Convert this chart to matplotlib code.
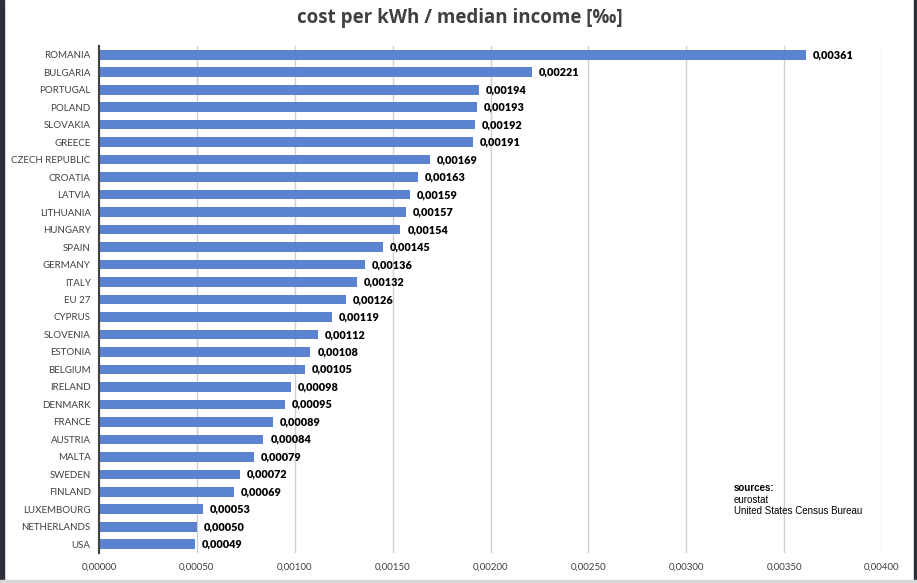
import matplotlib
matplotlib.use("Agg")
import matplotlib.pyplot as plt
from matplotlib.ticker import FuncFormatter, MultipleLocator

countries = ["ROMANIA", "BULGARIA", "PORTUGAL", "POLAND", "SLOVAKIA", "GREECE",
             "CZECH REPUBLIC", "CROATIA", "LATVIA", "LITHUANIA", "HUNGARY", "SPAIN",
             "GERMANY", "ITALY", "EU 27", "CYPRUS", "SLOVENIA", "ESTONIA", "BELGIUM",
             "IRELAND", "DENMARK", "FRANCE", "AUSTRIA", "MALTA", "SWEDEN", "FINLAND",
             "LUXEMBOURG", "NETHERLANDS", "USA"]
values = [0.00361, 0.00221, 0.00194, 0.00193, 0.00192, 0.00191, 0.00169, 0.00163,
          0.00159, 0.00157, 0.00154, 0.00145, 0.00136, 0.00132, 0.00126, 0.00119,
          0.00112, 0.00108, 0.00105, 0.00098, 0.00095, 0.00089, 0.00084, 0.00079,
          0.00072, 0.00069, 0.00053, 0.00050, 0.00049]

title = "cost per kWh / median income [‰]"
FONT = "Lato"

def comma(v, pos=None):
    return f"{v:.5f}".replace(".", ",")

W, H = 917, 583
fig = plt.figure(figsize=(W / 100, H / 100), dpi=100)
fig.patch.set_facecolor("white")

n = len(countries)
x0, x1 = 99, 882
ytop, ybot = 46, 553
ax = fig.add_axes([x0 / W, 1 - ybot / H, (x1 - x0) / W, (ybot - ytop) / H])
ypos = list(range(n))
ax.barh(ypos, values, height=0.55, color="#5b83cf", zorder=3)
ax.set_ylim(n - 0.5, -0.5)
ax.set_xlim(0, 0.004)
ax.xaxis.set_major_locator(MultipleLocator(0.0005))
ax.xaxis.set_major_formatter(FuncFormatter(comma))
ax.set_yticks(ypos)
ax.set_yticklabels(countries, fontsize=7, color="#404040", family=FONT)
for lab in ax.get_xticklabels():
    lab.set_fontsize(7)
    lab.set_color("#404040")
    lab.set_family(FONT)
ax.tick_params(axis="y", length=0, pad=6)
ax.tick_params(axis="x", length=0, pad=7)
ax.grid(axis="x", color="#d0d0d0", linewidth=1, zorder=0)
for s in ["top", "right", "bottom"]:
    ax.spines[s].set_visible(False)
ax.spines["left"].set_color("#404040")
ax.spines["left"].set_linewidth(1.5)
ax.spines["left"].set_zorder(4)

for y, v in zip(ypos, values):
    ax.text(v + 0.000035, y, comma(v), va="center", ha="left", fontsize=7.8,
            fontweight="heavy", color="black", family=FONT)

fig.text(460 / W, 1 - 18 / H, title, ha="center", va="center", fontsize=13.5,
         fontweight="bold", color="#404040", family="Open Sans")

fig.text(734 / W, 1 - 488 / H, "sources:", ha="left", va="center", fontsize=7,
         fontweight="bold", family="Liberation Sans", color="black")
fig.text(734 / W, 1 - 500 / H, "eurostat", ha="left", va="center", fontsize=7,
         family="Liberation Sans", color="black")
fig.text(734 / W, 1 - 511 / H, "United States Census Bureau", ha="left", va="center",
         fontsize=7, family="Liberation Sans", color="black")

# window frame edges of the screenshot
fig.patches.append(plt.Rectangle((0, 0), 4 / W, 1, transform=fig.transFigure,
                                 color="#2b303b", zorder=10))
fig.patches.append(plt.Rectangle((914 / W, 0), 3 / W, 1, transform=fig.transFigure,
                                 color="#2b303b", zorder=10))
fig.patches.append(plt.Rectangle((0, 0), 1, 3 / H, transform=fig.transFigure,
                                 color="#d8d8d8", zorder=10))

fig.savefig("out.png", dpi=100)
